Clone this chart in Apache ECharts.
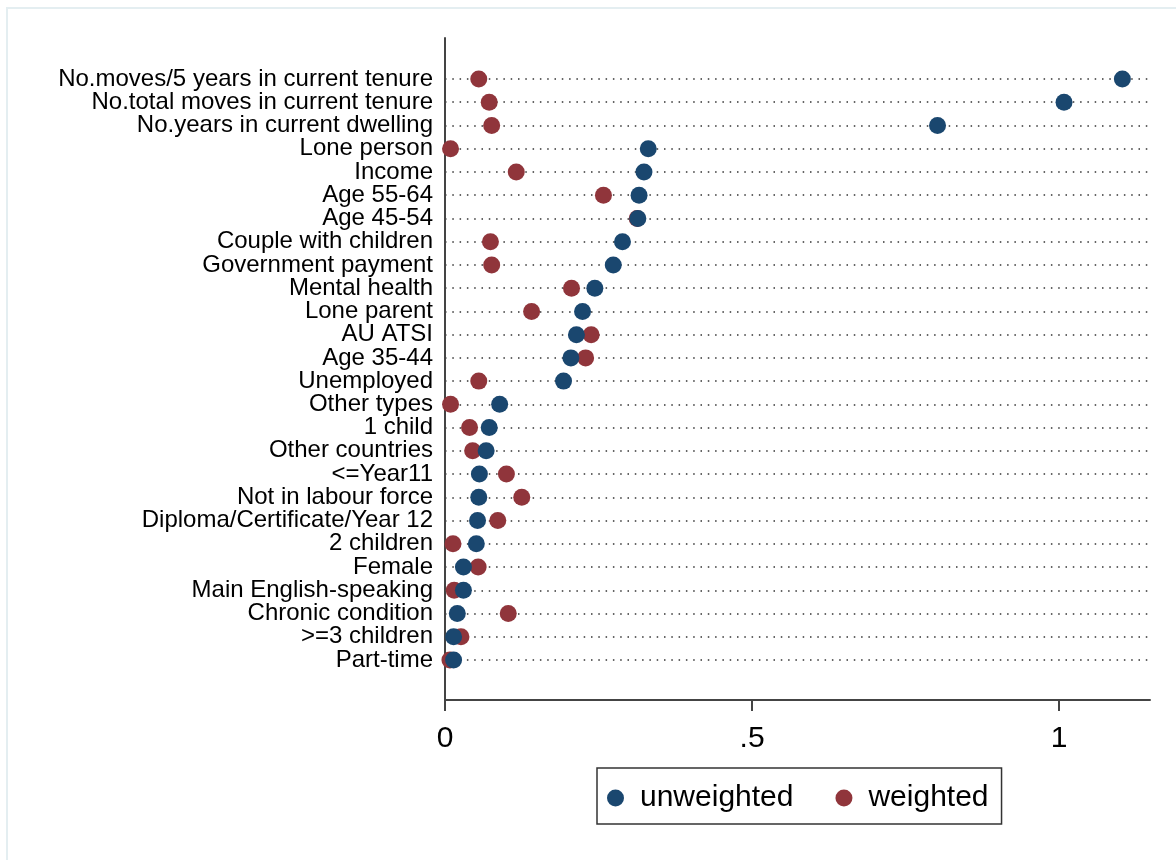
<!DOCTYPE html>
<html>
<head>
<meta charset="utf-8">
<script src="https://cdn.jsdelivr.net/npm/echarts@6/dist/echarts.min.js"></script>
<style>
  html, body { margin: 0; padding: 0; background: #fff; }
  #chart { width: 1176px; height: 860px; }
</style>
</head>
<body>
<div id="chart"></div>
<script>
// Characteristics, listed top to bottom
const categories = [
  'No.moves/5 years in current tenure',
  'No.total moves in current tenure',
  'No.years in current dwelling',
  'Lone person',
  'Income',
  'Age 55-64',
  'Age 45-54',
  'Couple with children',
  'Government payment',
  'Mental health',
  'Lone parent',
  'AU ATSI',
  'Age 35-44',
  'Unemployed',
  'Other types',
  '1 child',
  'Other countries',
  '<=Year11',
  'Not in labour force',
  'Diploma/Certificate/Year 12',
  '2 children',
  'Female',
  'Main English-speaking',
  'Chronic condition',
  '>=3 children',
  'Part-time'
];

const unweighted = [
  1.103, 1.008, 0.802, 0.331, 0.324, 0.316, 0.314, 0.289, 0.274, 0.244,
  0.224, 0.214, 0.205, 0.193, 0.089, 0.072, 0.067, 0.056, 0.055, 0.053,
  0.051, 0.030, 0.030, 0.020, 0.014, 0.014
];

const weighted = [
  0.055, 0.072, 0.076, 0.009, 0.116, 0.258, 0.313, 0.074, 0.076, 0.206,
  0.141, 0.238, 0.229, 0.055, 0.009, 0.040, 0.045, 0.100, 0.125, 0.086,
  0.013, 0.054, 0.015, 0.103, 0.026, 0.008
];

const xTicks = [0, 0.5, 1];
const xTickLabels = ['0', '.5', '1'];
const xMax = 1.148;

const FONT = "'Liberation Sans', Arial, sans-serif";
const NAVY = '#1a476f';
const MAROON = '#90353b';
const AXIS = '#444';

const chart = echarts.init(document.getElementById('chart'), null, { renderer: 'canvas' });

const pairs = vals => vals.map((v, i) => [v, categories[i]]);

chart.setOption({
  animation: false,
  backgroundColor: '#fff',
  graphic: [{
    type: 'rect',
    shape: { x: 7, y: 8, width: 1200, height: 900 },
    style: { fill: 'none', stroke: '#e4eef1', lineWidth: 2 },
    silent: true
  }],
  grid: [
    // outer plot frame: axis lines and x ticks
    { left: 445, right: 26, top: 38, bottom: 160 },
    // rows of markers
    { left: 445, right: 26, top: 79, bottom: 200 }
  ],
  xAxis: [
    {
      gridIndex: 0, type: 'value', min: 0, max: xMax,
      axisLine: { show: true, onZero: false, lineStyle: { color: AXIS, width: 2 } },
      axisTick: { show: true, customValues: xTicks, length: 11, lineStyle: { color: AXIS, width: 2 } },
      axisLabel: {
        show: true, customValues: xTicks, margin: 24,
        color: '#000', fontFamily: FONT, fontSize: 30,
        formatter: v => xTickLabels[xTicks.indexOf(v)] ?? ''
      },
      splitLine: { show: false }
    },
    {
      gridIndex: 1, type: 'value', min: 0, max: xMax, show: false,
      splitLine: { show: false }
    }
  ],
  yAxis: [
    {
      gridIndex: 0, type: 'value', min: 0, max: 1,
      axisLine: { show: true, onZero: false, lineStyle: { color: AXIS, width: 2 } },
      axisTick: { show: false }, axisLabel: { show: false }, splitLine: { show: false }
    },
    {
      gridIndex: 1, type: 'category', data: categories, inverse: true, boundaryGap: false,
      axisLine: { show: false }, axisTick: { show: false },
      axisLabel: {
        margin: 12, color: '#000', fontFamily: FONT, fontSize: 24, interval: 0
      },
      splitLine: {
        show: true, interval: 0,
        lineStyle: { color: '#333', width: 1.5, type: [1.5, 5.8] }
      }
    }
  ],
  legend: {
    data: ['unweighted', 'weighted'],
    left: 597, top: 768,
    orient: 'horizontal',
    icon: 'circle', itemWidth: 17, itemHeight: 17,
    itemGap: 42,
    padding: [15, 13, 11, 10],
    borderColor: '#333', borderWidth: 1.5, borderRadius: 0,
    textStyle: { color: '#000', fontFamily: FONT, fontSize: 30, padding: [0, 0, 0, 11] }
  },
  series: [
    {
      name: 'weighted', type: 'scatter', xAxisIndex: 1, yAxisIndex: 1,
      symbol: 'circle', symbolSize: 17, z: 2,
      itemStyle: { color: MAROON, opacity: 1 },
      data: pairs(weighted)
    },
    {
      name: 'unweighted', type: 'scatter', xAxisIndex: 1, yAxisIndex: 1,
      symbol: 'circle', symbolSize: 17, z: 3,
      itemStyle: { color: NAVY, opacity: 1 },
      data: pairs(unweighted)
    }
  ]
});
</script>
</body>
</html>
